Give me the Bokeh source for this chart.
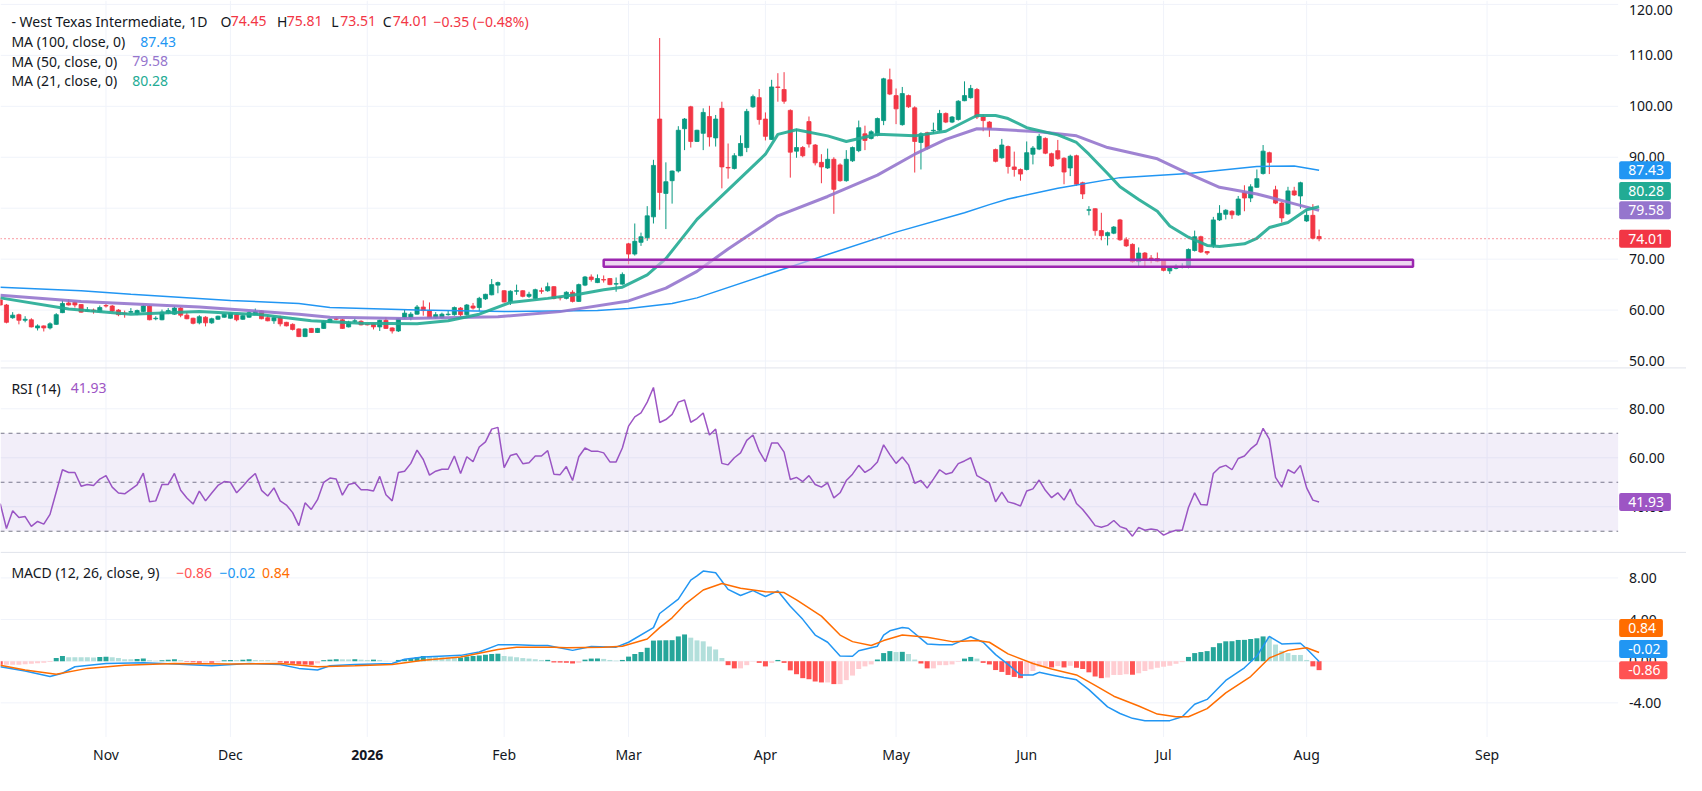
from bokeh.plotting import figure
from bokeh.models import (ColumnDataSource, Range1d, Label, BoxAnnotation, Span)
from bokeh.core.properties import value
from bokeh.embed import file_html
from bokeh.resources import INLINE

# ---------------- data (daily bars, index 0 = first bar of Nov) ----------------
first_bar = -17
opens = [
62.0, 61.0, 58.5, 59.1, 58.0, 58.1, 56.5, 56.9, 56.5, 57.2,
59.5, 61.4, 61.5, 61.1, 59.8, 60.0, 59.7,
60.9, 60.8, 60.0, 59.4, 59.6, 59.2, 59.7, 60.8, 58.3, 58.1,
59.4, 59.2, 60.4, 59.0, 58.4, 57.5, 58.6, 57.5, 58.2, 58.6,
58.4, 59.1, 58.2, 58.6, 59.1, 59.8, 58.5, 57.9, 58.5, 57.6,
57.2, 56.3, 54.8, 56.4, 55.6, 56.4, 57.6, 58.3, 58.1, 56.7,
57.8, 57.8, 57.2, 57.3, 56.7, 58.0, 56.5, 55.9, 58.5, 58.5,
59.2, 60.6, 59.9, 58.5, 58.5, 59.1, 59.1, 60.4, 59.1, 60.8,
60.5, 62.2, 63.0, 64.9, 63.8, 61.6, 63.7, 63.8, 62.7, 62.3,
63.8, 63.8, 64.6, 62.5, 62.3, 63.5, 61.7, 64.9, 66.5, 65.4,
66.0, 66.2, 65.1, 65.1, 73.0, 71.0, 73.3, 74.2, 78.3, 97.5,
82.9, 85.4, 87.3, 95.6, 99.9, 93.1, 94.7, 98.0, 93.8, 99.6,
88.0, 87.8, 90.3, 91.9, 99.9, 101.7, 97.5, 93.5, 103.8, 103.3,
99.2, 91.2, 91.9, 97.0, 92.4, 89.0, 87.9, 89.6, 88.5, 85.4,
89.3, 91.3, 94.6, 93.7, 94.3, 97.2, 105.2, 102.1, 96.4, 102.1,
99.7, 92.9, 94.8, 95.2, 95.3, 98.6, 96.9, 97.4, 101.1, 101.7,
103.3, 97.9, 96.9, 91.5, 89.9, 92.1, 88.1, 87.6, 87.6, 90.6,
91.6, 93.7, 90.7, 91.3, 89.8, 87.9, 90.3, 85.0, 79.6, 79.9,
75.6, 74.6, 75.1, 77.7, 73.8, 72.9, 69.5, 71.2, 70.2, 70.1,
69.8, 67.7, 68.2, 68.5, 68.4, 71.7, 74.4, 71.5, 72.7, 77.7,
78.8, 79.4, 78.7, 83.1, 82.0, 84.1, 86.8, 90.9, 83.6, 81.0,
78.9, 83.4, 82.4, 77.5, 78.6, 74.45]
highs = [
62.5, 61.2, 59.6, 59.3, 58.8, 58.4, 57.2, 57.0, 57.6, 59.4,
61.9, 62.1, 61.7, 61.2, 60.6, 60.3, 60.9,
61.2, 61.0, 60.2, 59.9, 60.4, 60.1, 61.0, 61.0, 58.8, 60.1,
60.4, 60.7, 60.6, 59.6, 58.5, 59.0, 58.8, 58.5, 58.9, 59.3,
59.5, 59.3, 59.1, 59.7, 60.3, 59.9, 58.9, 58.9, 58.9, 57.7,
57.4, 56.4, 56.4, 56.5, 56.5, 58.0, 58.4, 58.6, 58.3, 57.9,
58.4, 58.0, 57.3, 57.4, 58.1, 58.6, 56.6, 58.4, 60.2, 59.6,
61.0, 61.9, 61.5, 59.6, 59.5, 60.0, 60.7, 60.6, 61.2, 61.4,
62.6, 63.2, 66.1, 65.6, 63.9, 63.9, 65.0, 63.9, 63.6, 64.2,
64.4, 65.4, 64.7, 62.7, 63.7, 63.9, 65.2, 66.7, 67.0, 67.0,
66.8, 66.3, 66.4, 67.4, 73.2, 77.0, 75.2, 80.4, 89.5, 113.4,
89.0, 87.4, 96.1, 97.7, 100.1, 95.4, 99.6, 100.1, 98.3, 100.9,
92.7, 90.8, 94.3, 99.5, 102.3, 103.4, 98.8, 105.2, 106.5, 106.7,
99.4, 95.6, 92.2, 98.0, 92.6, 90.6, 91.7, 90.0, 88.8, 91.4,
92.1, 97.2, 96.2, 95.3, 97.8, 105.6, 107.4, 103.5, 103.8, 102.3,
100.0, 94.9, 95.0, 96.8, 99.3, 98.8, 98.1, 101.2, 104.9, 104.2,
103.6, 98.4, 97.1, 91.7, 93.6, 92.3, 91.1, 87.8, 93.1, 92.2,
94.6, 93.9, 90.9, 93.4, 90.0, 90.5, 90.5, 85.2, 80.4, 80.0,
79.1, 75.4, 76.5, 77.9, 74.3, 73.1, 72.3, 71.4, 70.8, 71.3,
69.9, 68.5, 69.0, 69.2, 72.1, 75.6, 74.6, 71.6, 78.3, 80.6,
79.8, 79.6, 82.4, 84.5, 84.7, 87.6, 92.4, 91.1, 84.4, 81.2,
84.2, 84.2, 85.2, 79.7, 80.8, 75.81]
lows = [
60.8, 57.4, 58.3, 57.2, 57.6, 56.6, 56.0, 55.8, 56.2, 57.1,
59.4, 60.9, 60.5, 59.5, 59.7, 59.3, 59.6,
60.5, 59.6, 58.8, 58.5, 59.4, 59.0, 59.6, 58.0, 58.0, 58.0,
59.2, 59.1, 58.6, 58.2, 57.2, 57.2, 56.8, 57.3, 58.1, 58.5,
58.3, 57.8, 58.1, 58.5, 59.0, 58.2, 57.8, 57.3, 56.8, 56.8,
56.0, 54.7, 54.7, 55.5, 55.5, 56.3, 57.5, 58.0, 56.3, 56.6,
57.5, 57.0, 57.0, 56.2, 55.9, 56.3, 55.4, 55.7, 58.3, 58.0,
59.1, 58.9, 58.4, 58.3, 58.3, 58.9, 58.9, 58.8, 58.9, 60.1,
59.8, 62.0, 62.9, 63.3, 61.5, 61.0, 63.0, 62.5, 62.4, 62.1,
63.2, 63.6, 62.1, 61.9, 62.1, 61.5, 61.6, 64.7, 65.6, 65.3,
65.4, 64.9, 63.6, 65.0, 69.0, 70.7, 72.6, 73.6, 77.0, 79.7,
75.9, 80.9, 87.0, 91.4, 91.9, 93.0, 91.4, 92.1, 92.1, 83.9,
85.8, 87.6, 90.2, 91.0, 99.7, 96.4, 93.3, 93.4, 100.9, 100.5,
86.0, 89.9, 90.0, 91.9, 88.4, 84.9, 87.7, 78.9, 85.2, 85.2,
89.1, 91.0, 91.4, 93.5, 94.1, 96.3, 102.2, 96.5, 96.2, 99.7,
87.0, 87.6, 91.5, 94.6, 95.1, 96.7, 96.7, 97.2, 101.0, 101.5,
97.5, 95.1, 94.0, 89.0, 89.7, 86.8, 86.2, 85.4, 87.4, 88.6,
91.4, 90.6, 88.1, 89.5, 84.7, 86.3, 84.4, 81.8, 78.6, 74.6,
73.7, 72.7, 74.9, 73.6, 72.4, 69.3, 68.5, 68.4, 69.2, 69.4,
67.6, 67.1, 68.0, 68.2, 68.2, 71.5, 71.2, 70.8, 72.2, 77.5,
77.8, 77.9, 78.5, 79.4, 81.2, 84.0, 86.6, 86.7, 80.8, 77.2,
78.7, 82.4, 79.9, 77.3, 73.9, 73.51]
closes = [
61.0, 57.6, 59.0, 58.0, 58.2, 56.7, 56.9, 56.5, 57.3, 59.1,
61.3, 61.0, 61.0, 59.6, 60.0, 59.8, 60.5,
60.8, 59.8, 59.1, 59.3, 59.7, 59.9, 60.8, 58.1, 58.4, 59.6,
59.9, 60.4, 59.0, 58.3, 57.4, 58.7, 57.5, 58.3, 58.8, 59.2,
59.4, 58.1, 58.9, 59.5, 59.7, 58.3, 57.9, 58.5, 57.3, 56.9,
56.2, 54.8, 56.3, 55.6, 56.4, 57.8, 58.2, 58.2, 56.4, 57.6,
57.9, 57.1, 57.1, 56.7, 58.0, 56.4, 55.9, 58.3, 59.4, 59.2,
60.6, 59.9, 58.5, 59.1, 59.2, 59.2, 60.5, 59.1, 61.0, 60.4,
62.3, 63.1, 65.0, 65.4, 61.6, 63.7, 63.8, 62.7, 63.1, 64.0,
63.7, 64.6, 62.3, 62.4, 63.5, 61.7, 65.0, 66.5, 66.0, 66.2,
65.9, 65.0, 65.2, 67.0, 71.0, 73.5, 74.4, 78.5, 88.4, 83.1,
85.2, 87.3, 95.3, 97.5, 93.1, 95.3, 98.8, 94.0, 97.5, 88.1,
87.9, 90.3, 92.7, 99.0, 101.9, 97.4, 94.1, 103.8, 103.7, 101.0,
91.0, 91.9, 90.3, 92.6, 88.9, 88.1, 89.6, 83.7, 85.4, 89.6,
91.9, 95.8, 93.3, 95.0, 97.6, 105.4, 102.4, 99.5, 102.5, 99.9,
93.1, 94.6, 91.7, 95.3, 98.6, 96.9, 97.9, 101.0, 102.1, 103.5,
97.9, 97.2, 95.6, 89.2, 92.4, 88.2, 87.6, 86.7, 90.9, 91.8,
94.1, 90.8, 88.3, 89.7, 87.1, 90.2, 84.7, 82.8, 79.7, 75.6,
74.6, 75.2, 76.3, 73.8, 72.6, 69.5, 71.2, 69.9, 70.1, 69.6,
67.8, 68.3, 68.6, 68.6, 71.9, 74.4, 71.4, 71.2, 77.7, 79.0,
79.6, 78.7, 81.8, 82.0, 84.2, 85.8, 91.2, 89.0, 81.0, 78.1,
83.4, 82.6, 85.0, 78.6, 74.1, 74.01]

# moving averages (read at points along each line)
ma100_idx = [-17, -4, 4, 20, 31, 36, 50, 64, 79, 84, 91, 95, 106, 116, 127, 138, 142, 145, 153, 163, 174, 185, 191, 195]
ma100_val = [64.5, 63.8, 63.1, 61.9, 61.3, 60.5, 60.0, 59.7, 59.9, 60.3, 61.3, 62.4, 66.9, 70.9, 75.3, 79.1, 80.7, 81.8, 83.9, 86.0, 86.8, 88.2, 88.3, 87.43]
ma50_idx = [-17, -4, 15, 31, 36, 48, 63, 73, 84, 90, 95, 100, 108, 116, 124, 130, 135, 140, 143, 150, 156, 161, 169, 174, 179, 185, 190, 195]
ma50_val = [62.9, 61.7, 60.6, 59.2, 58.6, 58.35, 58.7, 59.7, 61.8, 64.3, 67.6, 72.0, 78.5, 82.3, 86.5, 90.6, 93.5, 95.6, 95.5, 95.0, 94.2, 91.9, 89.7, 86.8, 84.1, 82.8, 81.2, 79.58]
ma21_idx = [-17, -6, 4, 15, 25, 33, 41, 50, 55, 60, 65, 71, 76, 80, 83, 87, 90, 95, 100, 106, 108, 111, 116, 119, 124, 130, 135, 140, 143, 145, 148, 153, 156, 158, 161, 163, 166, 169, 171, 174, 177, 179, 183, 185, 187, 190, 193, 195]
ma21_val = [62.4, 60.2, 59.2, 59.7, 59.1, 57.9, 57.4, 57.3, 57.9, 59.2, 61.5, 62.3, 63.1, 64.0, 64.5, 66.9, 70.1, 77.8, 83.6, 90.6, 94.5, 95.4, 94.2, 93.1, 94.5, 94.2, 95.1, 98.2, 98.2, 97.6, 95.8, 94.4, 92.9, 90.6, 86.8, 84.2, 81.7, 79.4, 76.5, 74.3, 72.7, 72.5, 73.0, 74.1, 76.2, 77.2, 79.7, 80.28]

# RSI(14), one value per bar
rsi = [
41.3, 31.1, 38.4, 35.6, 36.0, 32.0, 34.0, 32.9, 36.9, 46.0,
55.1, 54.0, 54.0, 48.4, 49.1, 48.7, 51.3,
52.7, 48.0, 45.6, 45.3, 47.1, 48.9, 53.7, 42.0, 42.4, 49.1,
49.1, 53.6, 46.7, 43.6, 41.1, 46.4, 42.4, 45.6, 48.7, 50.3,
50.0, 45.7, 48.4, 51.3, 53.6, 46.7, 44.4, 47.7, 42.4, 40.7,
37.6, 32.3, 41.6, 38.9, 42.9, 50.0, 51.7, 51.3, 44.7, 49.1,
49.7, 46.9, 46.9, 46.4, 52.4, 44.9, 42.4, 54.0, 54.5, 57.7,
63.1, 59.3, 52.9, 54.5, 55.3, 55.3, 60.7, 53.6, 60.4, 58.4,
64.4, 66.5, 71.7, 72.4, 56.0, 60.9, 61.6, 57.6, 58.0, 60.7,
60.7, 62.9, 53.3, 53.1, 56.4, 50.7, 60.4, 64.0, 62.7, 62.7,
62.0, 58.3, 58.3, 64.0, 72.9, 76.7, 78.3, 82.7, 88.7, 74.4,
75.6, 77.7, 82.7, 83.6, 74.5, 76.0, 78.3, 69.3, 71.7, 57.7,
57.1, 60.0, 62.0, 67.1, 69.3, 62.7, 58.4, 66.0, 66.0, 62.3,
51.1, 52.0, 50.3, 52.7, 49.1, 48.0, 49.7, 43.6, 45.7, 50.7,
53.3, 56.9, 54.0, 55.6, 58.3, 65.3, 61.3, 57.7, 60.3, 57.1,
49.6, 50.7, 47.6, 51.3, 55.1, 53.3, 54.0, 57.6, 58.7, 60.0,
52.7, 51.3, 49.7, 42.0, 46.0, 42.0, 41.3, 40.3, 46.4, 47.3,
50.9, 46.7, 43.7, 45.7, 42.7, 47.2, 41.3, 38.9, 35.7, 32.3,
31.6, 32.4, 34.4, 31.9, 31.0, 28.0, 31.6, 30.4, 30.9, 30.5,
28.4, 29.6, 30.4, 30.4, 39.7, 45.7, 40.9, 40.7, 53.6, 56.0,
56.9, 55.1, 59.7, 60.7, 63.6, 65.7, 72.0, 67.6, 52.0, 48.0,
55.1, 53.7, 56.9, 47.7, 42.7, 41.93]

# MACD histogram, one value per bar
macd_hist = [
-0.35, -0.35, -0.35, -0.35, -0.3, -0.25, -0.2, -0.15, -0.08, 0.31,
0.5, 0.38, 0.38, 0.38, 0.38, 0.36, 0.4,
0.42, 0.38, 0.3, 0.19, 0.19, 0.22, 0.25, 0.09, 0.05, 0.1,
0.15, 0.19, 0.1, -0.06, -0.1, -0.16, -0.12, -0.16, -0.1, 0.09,
0.12, 0.12, 0.15, 0.19, 0.12, 0.09, 0.09, 0.05, -0.12, -0.2,
-0.25, -0.31, -0.33, -0.35, -0.2, 0.1, 0.15, 0.19, 0.18, 0.17,
0.19, 0.15, 0.12, 0.15, 0.12, 0.03, 0.02, 0.12, 0.19, 0.31,
0.38, 0.5, 0.45, 0.4, 0.38, 0.35, 0.31, 0.35, 0.45, 0.5,
0.55, 0.62, 0.69, 0.72, 0.5, 0.45, 0.38, 0.3, 0.25, 0.19,
0.12, 0.13, -0.12, -0.13, -0.15, -0.22, -0.15, 0.15, 0.25, 0.26,
0.22, 0.12, 0.06, 0.12, 0.44, 0.69, 0.88, 1.29, 1.98, 2.0,
2.01, 2.02, 2.38, 2.57, 2.26, 2.0, 1.91, 1.41, 1.13, 0.31,
-0.38, -0.69, -0.69, -0.38, -0.03, -0.16, -0.5, -0.16, 0.12, -0.16,
-0.88, -1.25, -1.63, -1.73, -1.95, -2.04, -2.04, -2.2, -2.2, -1.82,
-1.38, -0.75, -0.5, -0.31, 0.16, 0.78, 0.97, 0.88, 0.9, 0.69,
0.16, -0.22, -0.69, -0.69, -0.38, -0.38, -0.31, -0.06, 0.25, 0.41,
0.25, -0.16, -0.31, -0.85, -1.03, -1.32, -1.51, -1.63, -1.32, -0.94,
-0.53, -0.53, -0.6, -0.47, -0.6, -0.44, -0.63, -0.75, -1.07, -1.47,
-1.63, -1.57, -1.32, -1.32, -1.25, -1.3, -1.16, -0.94, -0.78, -0.63,
-0.53, -0.44, -0.25, -0.09, 0.41, 0.78, 0.88, 0.97, 1.35, 1.73,
1.91, 1.92, 2.04, 2.05, 2.13, 2.2, 2.38, 2.36, 1.6, 1.0,
0.78, 0.6, 0.6, 0.12, -0.5, -0.86]

macd_idx = [-17, -13, -9, -7, -5, 0, 6, 11, 17, 23, 28, 31, 34, 36, 40, 46, 48, 51, 57, 60, 63, 66, 69, 71, 75, 78, 82, 84, 88, 89, 92, 94, 95, 96, 98, 100, 102, 104, 106, 108, 110, 112, 114, 116, 118, 120, 121, 124, 125, 126, 128, 129, 132, 134, 136, 139, 141, 143, 145, 147, 149, 150, 152, 154, 156, 158, 161, 163, 165, 167, 171, 173, 175, 177, 180, 183, 185, 187, 189, 192, 193, 195]
macd_val = [-0.53, -0.94, -1.47, -1.16, -0.53, -0.22, -0.16, -0.28, -0.44, -0.22, -0.31, -0.69, -0.85, -0.44, -0.31, -0.22, 0.19, 0.41, 0.56, 0.88, 1.57, 1.57, 1.51, 1.51, 1.04, 1.41, 1.35, 1.82, 3.23, 4.58, 5.96, 7.78, 8.19, 8.66, 8.5, 6.9, 6.31, 6.78, 6.21, 6.75, 5.27, 4.02, 2.51, 1.82, 0.5, 0.47, 1.0, 1.44, 2.51, 2.92, 3.23, 3.17, 1.66, 1.57, 1.57, 2.35, 1.82, 0.63, -0.3, -1.32, -1.32, -1.07, -1.32, -1.57, -1.79, -2.73, -4.39, -5.02, -5.49, -5.71, -5.71, -5.33, -4.14, -3.67, -1.85, -0.63, 0.5, 2.38, 1.66, 1.73, 1.19, -0.02]
signal_idx = [-17, -13, -8, -3, 3, 11, 20, 28, 34, 40, 46, 51, 57, 63, 66, 72, 74, 80, 83, 87, 89, 91, 93, 96, 99, 102, 106, 109, 111, 115, 118, 120, 123, 125, 128, 132, 136, 140, 142, 145, 149, 152, 156, 159, 162, 166, 169, 172, 174, 177, 180, 184, 187, 190, 193, 195]
signal_val = [-0.38, -0.85, -1.25, -0.69, -0.38, -0.22, -0.28, -0.22, -0.53, -0.44, -0.31, 0.09, 0.41, 1.13, 1.35, 1.35, 1.29, 1.35, 1.44, 2.13, 3.23, 4.17, 5.43, 6.84, 7.47, 7.0, 6.68, 6.59, 5.9, 4.33, 2.51, 1.88, 1.51, 1.98, 2.51, 2.29, 1.88, 1.98, 1.82, 0.7, -0.22, -0.75, -1.32, -2.32, -3.36, -4.3, -5.08, -5.33, -5.33, -4.55, -3.04, -1.47, 0.31, 1.04, 1.29, 0.84]

month_ticks = [0, 20, 42, 64, 84, 106, 127, 148, 170, 193, 222]
month_labels = ["Nov", "Dec", "2026", "Feb", "Mar", "Apr", "May", "Jun", "Jul", "Aug", "Sep"]
price_ticks = [50, 60, 70, 80, 90, 100, 110, 120]
rsi_ticks = [40, 60, 80]
rsi_levels = [70, 50, 30]
macd_ticks = [-4, 0, 4, 8]
zone_start, zone_end, zone_low, zone_high = 80, 210.1, 68.5, 69.9
last_open, last_high, last_low, last_close = 74.45, 75.81, 73.51, 74.01
last_change, last_pct = "\u22120.35", "(\u22120.48%)"
ma100_last, ma50_last, ma21_last = 87.43, 79.58, 80.28
rsi_last = 41.93
macd_last, signal_last, hist_last = -0.02, 0.84, -0.86

# ---------------- styling / layout ----------------
FONT = "Noto Sans"
TXT = "#131722"
GRID = "#f0f3fa"
SEP = "#e0e3eb"
GREEN = "#089981"
RED = "#f23645"
C_MA100 = "#2196f3"
C_MA50 = "#9575cd"
C_MA21 = "#22ab94"
C_RSI = "#9d55c4"
C_MACD = "#2196f3"
C_SIG = "#ff6d00"
C_HRED = "#ff5252"

WC, HC = 1686, 775                 # canvas size
REF_W, REF_H = 1702.0, 791.0       # layout designed on this grid, scaled to the canvas
SX, SY = WC / REF_W, HC / REF_H
BAR0_X, BAR_W = 106.5, 6.28        # layout px of bar 0 and bar spacing
PLOT_RIGHT = 1633                  # right edge of the plotting area (layout px)


def sx(px):
    return px * SX


def sy(px):
    return px * SY


def bar_at(px):  # layout px -> bar index
    return (px - BAR0_X) / BAR_W


X_LEFT = bar_at(0)
X_RIGHT = bar_at(REF_W)
X_PLOT_END = bar_at(PLOT_RIGHT)

# panes: layout px band (top, bottom) and value range (low, high)
PANES = {
    "price": ((0.0, 375.0), (48.65, 120.77)),
    "rsi": ((375.0, 563.3), (21.36, 96.68)),
    "macd": ((563.3, 751.7), (-7.28, 10.45)),
}
RN = {"price": "default", "rsi": "rsi", "macd": "macd"}
ranges = {}
units = {}
for name, ((a, bb), (lo, hi)) in PANES.items():
    u = (hi - lo) / (bb - a)          # value per layout px
    units[name] = u
    ranges[name] = Range1d(start=lo - (REF_H - bb) * u, end=hi + a * u)

p = figure(width=WC, height=HC, x_range=Range1d(X_LEFT, X_RIGHT), y_range=ranges["price"],
           x_axis_location=None, y_axis_location=None, toolbar_location=None,
           output_backend="svg", min_border=0, outline_line_color=None,
           background_fill_color="white", border_fill_color="white")
p.extra_y_ranges = {"rsi": ranges["rsi"], "macd": ranges["macd"], "px": Range1d(HC, 0)}
p.extra_x_ranges = {"px": Range1d(0, WC)}
p.grid.visible = False

# ---- grid lines ----
p.segment(x0=month_ticks, x1=month_ticks, y0=[0] * len(month_ticks),
          y1=[sy(PANES["macd"][0][1])] * len(month_ticks), y_range_name="px",
          line_color=GRID, line_width=1)
for name, ticks in (("price", price_ticks), ("rsi", rsi_ticks), ("macd", macd_ticks)):
    p.segment(x0=[X_LEFT] * len(ticks), x1=[X_PLOT_END] * len(ticks), y0=ticks, y1=ticks,
              y_range_name=RN[name], line_color=GRID, line_width=1)

# pane separators
for name in ("rsi", "macd"):
    p.add_layout(Span(location=sy(PANES[name][0][0]), dimension="width", y_range_name="px",
                      line_color=SEP, line_width=1))

bars = list(range(first_bar, first_bar + len(closes)))

# ---------------- price pane ----------------
colors = [GREEN if c >= o else RED for o, c in zip(opens, closes)]
src = ColumnDataSource(dict(x=bars, o=opens, h=highs, l=lows, c=closes,
                            top=[max(o, c) for o, c in zip(opens, closes)],
                            bot=[min(o, c) for o, c in zip(opens, closes)],
                            col=colors))
p.segment(x0="x", y0="l", x1="x", y1="h", line_color="col", line_width=1, source=src)
p.vbar(x="x", width=0.66, top="top", bottom="bot", fill_color="col",
       line_color="col", line_width=0.8, source=src)

p.line(ma100_idx, ma100_val, line_color=C_MA100, line_width=1.5)
p.line(ma50_idx, ma50_val, line_color=C_MA50, line_width=3, line_alpha=0.9)
p.line(ma21_idx, ma21_val, line_color=C_MA21, line_width=3, line_alpha=0.9)

p.add_layout(BoxAnnotation(left=zone_start, right=zone_end, bottom=zone_low, top=zone_high,
                           fill_color="#e1bee7", fill_alpha=0.6,
                           line_color="#9c27b0", line_width=2.5, line_alpha=1.0))
p.segment(x0=[X_LEFT], x1=[X_PLOT_END], y0=[last_close], y1=[last_close],
          line_color=RED, line_dash="1 3", line_width=1)

# ---------------- RSI pane ----------------
p.add_layout(BoxAnnotation(left=X_LEFT, right=X_PLOT_END, bottom=30, top=70, y_range_name="rsi",
                           fill_color="#7e57c2", fill_alpha=0.1, line_color=None))
p.segment(x0=[X_LEFT] * 3, x1=[X_PLOT_END] * 3, y0=rsi_levels, y1=rsi_levels, y_range_name="rsi",
          line_color="#787b86", line_dash="4 4", line_width=1)
p.line(bars, rsi, y_range_name="rsi", line_color=C_RSI, line_width=1.5)

# ---------------- MACD pane ----------------
hist_cols = []
prev = None
for v in macd_hist:
    if v >= 0:
        hist_cols.append("#26a69a" if (prev is None or v > prev) else "#b2dfdb")
    else:
        hist_cols.append(C_HRED if (prev is None or v < prev) else "#ffcdd2")
    prev = v
hsrc = ColumnDataSource(dict(x=bars, top=macd_hist, col=hist_cols))
p.vbar(x="x", width=0.8, top="top", bottom=0, fill_color="col", line_color=None,
       source=hsrc, y_range_name="macd")
p.line(macd_idx, macd_val, y_range_name="macd", line_color=C_MACD, line_width=1.5)
p.line(signal_idx, signal_val, y_range_name="macd", line_color=C_SIG, line_width=1.5)

# ---------------- texts ----------------
TEXT_KW = dict(text_font=value(FONT), text_font_size=value("14px"), text_baseline="middle")


def axis_labels(name, ticks):
    u = units[name]
    top_limit = ranges[name].end - 10 * u
    ys = [min(t, top_limit) for t in ticks]
    p.text(x=[sx(1644)] * len(ticks), y=ys, text=[f"{t:.2f}" for t in ticks],
           x_range_name="px", y_range_name=RN[name],
           text_color=TXT, text_align="left", **TEXT_KW)


axis_labels("price", price_ticks)
axis_labels("rsi", rsi_ticks)
axis_labels("macd", macd_ticks)

# date axis
date_y = sy(770)
reg = [(t, l) for t, l in zip(month_ticks, month_labels) if not l.isdigit()]
yrs = [(t, l) for t, l in zip(month_ticks, month_labels) if l.isdigit()]
p.text(x=[t for t, _ in reg], y=[date_y] * len(reg), text=[l for _, l in reg],
       y_range_name="px", text_color=TXT, text_align="center", **TEXT_KW)
p.text(x=[t for t, _ in yrs], y=[date_y] * len(yrs), text=[l for _, l in yrs],
       y_range_name="px", text_color=TXT, text_align="center", text_font_style="bold", **TEXT_KW)


def legend(s, x, y, color=TXT):
    p.add_layout(Label(x=sx(x), y=sy(y), x_range_name="px", y_range_name="px",
                       text=s, text_color=color, text_font=FONT, text_font_size="14px",
                       text_baseline="middle", text_align="left"))


legend("- West Texas Intermediate, 1D", 11, 21)
legend("O", 222, 21)
legend(f"{last_open:.2f}", 232.5, 21, RED)
legend("H", 279, 21)
legend(f"{last_high:.2f}", 289, 21, RED)
legend("L", 334, 21)
legend(f"{last_low:.2f}", 343, 21, RED)
legend("C", 386, 21)
legend(f"{last_close:.2f}", 396, 21, RED)
legend(f"{last_change} {last_pct}", 437, 21, RED)
legend("MA (100, close, 0)", 11, 42)
legend(f"{ma100_last:.2f}", 141, 42, C_MA100)
legend("MA (50, close, 0)", 11, 62)
legend(f"{ma50_last:.2f}", 133, 62, C_MA50)
legend("MA (21, close, 0)", 11, 82)
legend(f"{ma21_last:.2f}", 133, 82, C_MA21)
legend("RSI (14)", 11, 396)
legend(f"{rsi_last:.2f}", 71, 396, C_RSI)
legend("MACD (12, 26, close, 9)", 11, 584)
legend(f"{hist_last:.2f}".replace("-", "\u2212"), 177.5, 584, C_HRED)
legend(f"{macd_last:.2f}".replace("-", "\u2212"), 221, 584, C_MACD)
legend(f"{signal_last:.2f}", 264, 584, C_SIG)


def badge(name, yval, s, color, shift_px=0.0):
    p.add_layout(Label(x=sx(1634), y=yval + shift_px * units[name], x_range_name="px",
                       y_range_name=RN[name],
                       text=s, text_color="white", text_font=FONT, text_font_size="14px",
                       text_baseline="middle", text_align="left",
                       background_fill_color=color, border_radius=2,
                       padding=dict(left=9, right=7, top=4, bottom=4)))


badge("price", ma100_last, f"{ma100_last:.2f}", C_MA100)
badge("price", ma100_last, f"{ma21_last:.2f}", C_MA21, shift_px=-21)
badge("price", ma50_last, f"{ma50_last:.2f}", C_MA50)
badge("price", last_close, f"{last_close:.2f}", RED)
badge("rsi", rsi_last, f"{rsi_last:.2f}", C_RSI)
badge("macd", hist_last, f"{hist_last:.2f}", C_HRED)
badge("macd", hist_last, f"{macd_last:.2f}", C_MACD, shift_px=21.5)
badge("macd", hist_last, f"{signal_last:.2f}", C_SIG, shift_px=43)

open("out.html", "w").write(file_html(p, INLINE))
